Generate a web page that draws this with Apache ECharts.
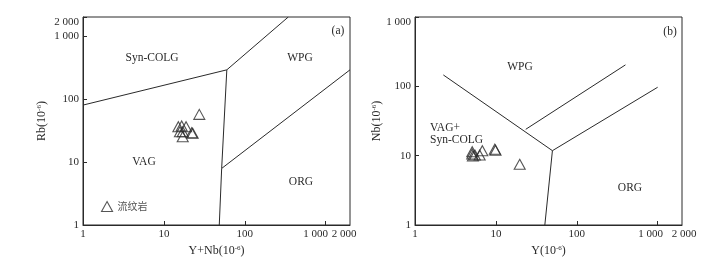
<!DOCTYPE html>
<html>
<head>
<meta charset="utf-8">
<script src="https://cdn.jsdelivr.net/npm/echarts@6/dist/echarts.min.js"></script>
<style>html,body{margin:0;padding:0;background:#fff}#c{width:722px;height:268px}</style>
</head>
<body>
<div id="c"></div>
<script>
// ---- Data: panel (a) Rb vs Y+Nb ----
const rhyoliteA_YNb = [27.4, 15.1, 16.6, 18.8, 15.8, 17.1, 22.1, 22.7, 17.1];
const rhyoliteA_Rb  = [57, 36.3, 37.3, 36.3, 30.3, 30.3, 29.2, 28.6, 25.2];
// boundaries (a)
const a_synVag = [[1, 80], [60, 290]];
const a_synWpg = [[60, 290], [345, 2000]];
const a_vagWpg = [[60, 290], [51.8, 7.9], [48.4, 1]];
const a_orgWpg = [[51.8, 7.9], [2000, 290]];

// ---- Data: panel (b) Nb vs Y ----
const rhyoliteB_Y  = [5.1, 5.1, 5.2, 5.5, 6.3, 6.8, 9.7, 9.9, 19.7];
const rhyoliteB_Nb = [11.4, 10.6, 9.9, 10.2, 10.2, 11.8, 12.4, 12.0, 7.5];
// boundaries (b)
const b_wpgVag = [[2.24, 146], [50, 11.8]];
const b_wpgInner = [[23.4, 24], [400, 204]];
const b_vagOrg = [[50, 11.8], [40.3, 1]];
const b_wpgOrg = [[50, 11.8], [1000, 97]];

// axis ranges / tick labels
const axisMinA = 1, axisMaxA = 2000, axisMaxBy = 1000;

const seriesName = '流纹岩';
const serif = 'Liberation Serif';
const ink = '#2a2a2a';

function fmt(v) {
  const n = Math.round(v);
  return String(n).replace(/\B(?=(\d{3})+(?!\d))/g, ' ');
}
function zip(xs, ys) { return xs.map((x, i) => [x, ys[i]]); }

const labelBase = { fontFamily: serif, fontSize: 11, color: ink };

function logAxis(gridIndex, max, name, nameGap, isY, extra) {
  const ax = {
    type: 'log', logBase: 10, gridIndex, min: axisMinA, max,
    name, nameLocation: 'middle', nameGap,
    nameTextStyle: {
      fontFamily: serif, fontSize: 12, color: ink,
      rich: { s: { fontFamily: serif, fontSize: 7, color: ink, verticalAlign: 'top', padding: [0, 0, 4, 0] } }
    },
    axisLine: { show: true, lineStyle: { color: ink, width: 1 } },
    axisTick: { show: true, inside: true, length: 4, lineStyle: { color: ink } },
    minorTick: { show: false },
    splitLine: { show: false },
    axisLabel: Object.assign({}, labelBase, {
      margin: 4, formatter: fmt, hideOverlap: false, showMinLabel: true,
      showMaxLabel: true
    })
  };
  if (isY) ax.axisLabel.verticalAlignMaxLabel = 'top';
  if (extra) extra(ax);
  return ax;
}

// bottom x axis: shows 1..1000 (1000 nudged left), max label drawn by overlay axis
function xMain(gridIndex, name, shift1000) {
  return logAxis(gridIndex, axisMaxA, name, 13, false, ax => {
    ax.position = 'bottom';
    ax.axisLabel.showMaxLabel = false;
    ax.axisLabel.formatter = v => Math.round(v) === 1000 ? '{m|' + fmt(v) + '}' : fmt(v);
    ax.axisLabel.rich = { m: Object.assign({}, labelBase, { padding: [0, shift1000, 0, 0] }) };
  });
}
function xMaxOverlay(gridIndex, padL, padR) {
  return {
    type: 'log', logBase: 10, gridIndex, min: axisMinA, max: axisMaxA, position: 'bottom',
    axisLine: { show: false }, axisTick: { show: false }, splitLine: { show: false }, minorTick: { show: false },
    axisLabel: Object.assign({}, labelBase, {
      margin: 4, showMaxLabel: true, showMinLabel: false, hideOverlap: false,
      formatter: v => Math.round(v) === axisMaxA ? '{m|' + fmt(v) + '}' : '',
      rich: { m: Object.assign({}, labelBase, { padding: [0, padR, 0, padL] }) }
    })
  };
}

function boundary(xi, yi, pts) {
  return {
    type: 'line', xAxisIndex: xi, yAxisIndex: yi, data: pts,
    symbol: 'none', silent: true, lineStyle: { color: ink, width: 1 }, z: 1
  };
}

function pointsSeries(xi, yi, data) {
  return {
    name: seriesName, type: 'scatter', xAxisIndex: xi, yAxisIndex: yi, data,
    symbol: 'triangle', symbolSize: [11, 10],
    itemStyle: { color: 'rgba(0,0,0,0)', borderColor: ink, borderWidth: 1.1 }, z: 3
  };
}

function txt(x, y, text, align) {
  return {
    type: 'text', x, y,
    style: { text, fontFamily: serif, fontSize: 11.5, fill: ink, align: align || 'center', verticalAlign: 'middle' }
  };
}

const chart = echarts.init(document.getElementById('c'), null, { renderer: 'canvas' });
chart.setOption({
  animation: false,
  backgroundColor: '#fff',
  grid: [
    { left: 83, top: 17, width: 267, height: 208, show: true, borderColor: ink, borderWidth: 1, backgroundColor: 'transparent' },
    { left: 415, top: 17, width: 267, height: 208, show: true, borderColor: ink, borderWidth: 1, backgroundColor: 'transparent' }
  ],
  xAxis: [
    xMain(0, 'Y+Nb(10{s|-6})', 20),
    xMain(1, 'Y(10{s|-6})', 14),
    xMaxOverlay(0, 0, 12),
    xMaxOverlay(1, 4, 0)
  ],
  yAxis: [
    logAxis(0, axisMaxA, 'Rb(10{s|-6})', 35, true),
    logAxis(1, axisMaxBy, 'Nb(10{s|-6})', 28, true)
  ],
  legend: {
    data: [seriesName], left: 96, top: 196, itemWidth: 11, itemHeight: 10, itemGap: 4,
    icon: 'triangle',
    itemStyle: { color: 'rgba(0,0,0,0)', borderColor: ink, borderWidth: 1.1 },
    textStyle: { fontFamily: 'Noto Sans CJK SC', fontSize: 10, color: '#555' }
  },
  series: [
    boundary(0, 0, a_synVag), boundary(0, 0, a_synWpg), boundary(0, 0, a_vagWpg), boundary(0, 0, a_orgWpg),
    boundary(1, 1, b_wpgVag), boundary(1, 1, b_wpgInner), boundary(1, 1, b_vagOrg), boundary(1, 1, b_wpgOrg),
    pointsSeries(0, 0, zip(rhyoliteA_YNb, rhyoliteA_Rb)),
    pointsSeries(1, 1, zip(rhyoliteB_Y, rhyoliteB_Nb))
  ],
  graphic: [
    txt(152, 58, 'Syn-COLG'), txt(300, 58, 'WPG'), txt(144, 162, 'VAG'), txt(301, 182, 'ORG'), txt(338, 31, '(a)'),
    txt(520, 67, 'WPG'), txt(430, 128, 'VAG+', 'left'), txt(430, 140, 'Syn-COLG', 'left'), txt(630, 188, 'ORG'), txt(670, 32, '(b)')
  ]
});
</script>
</body>
</html>
